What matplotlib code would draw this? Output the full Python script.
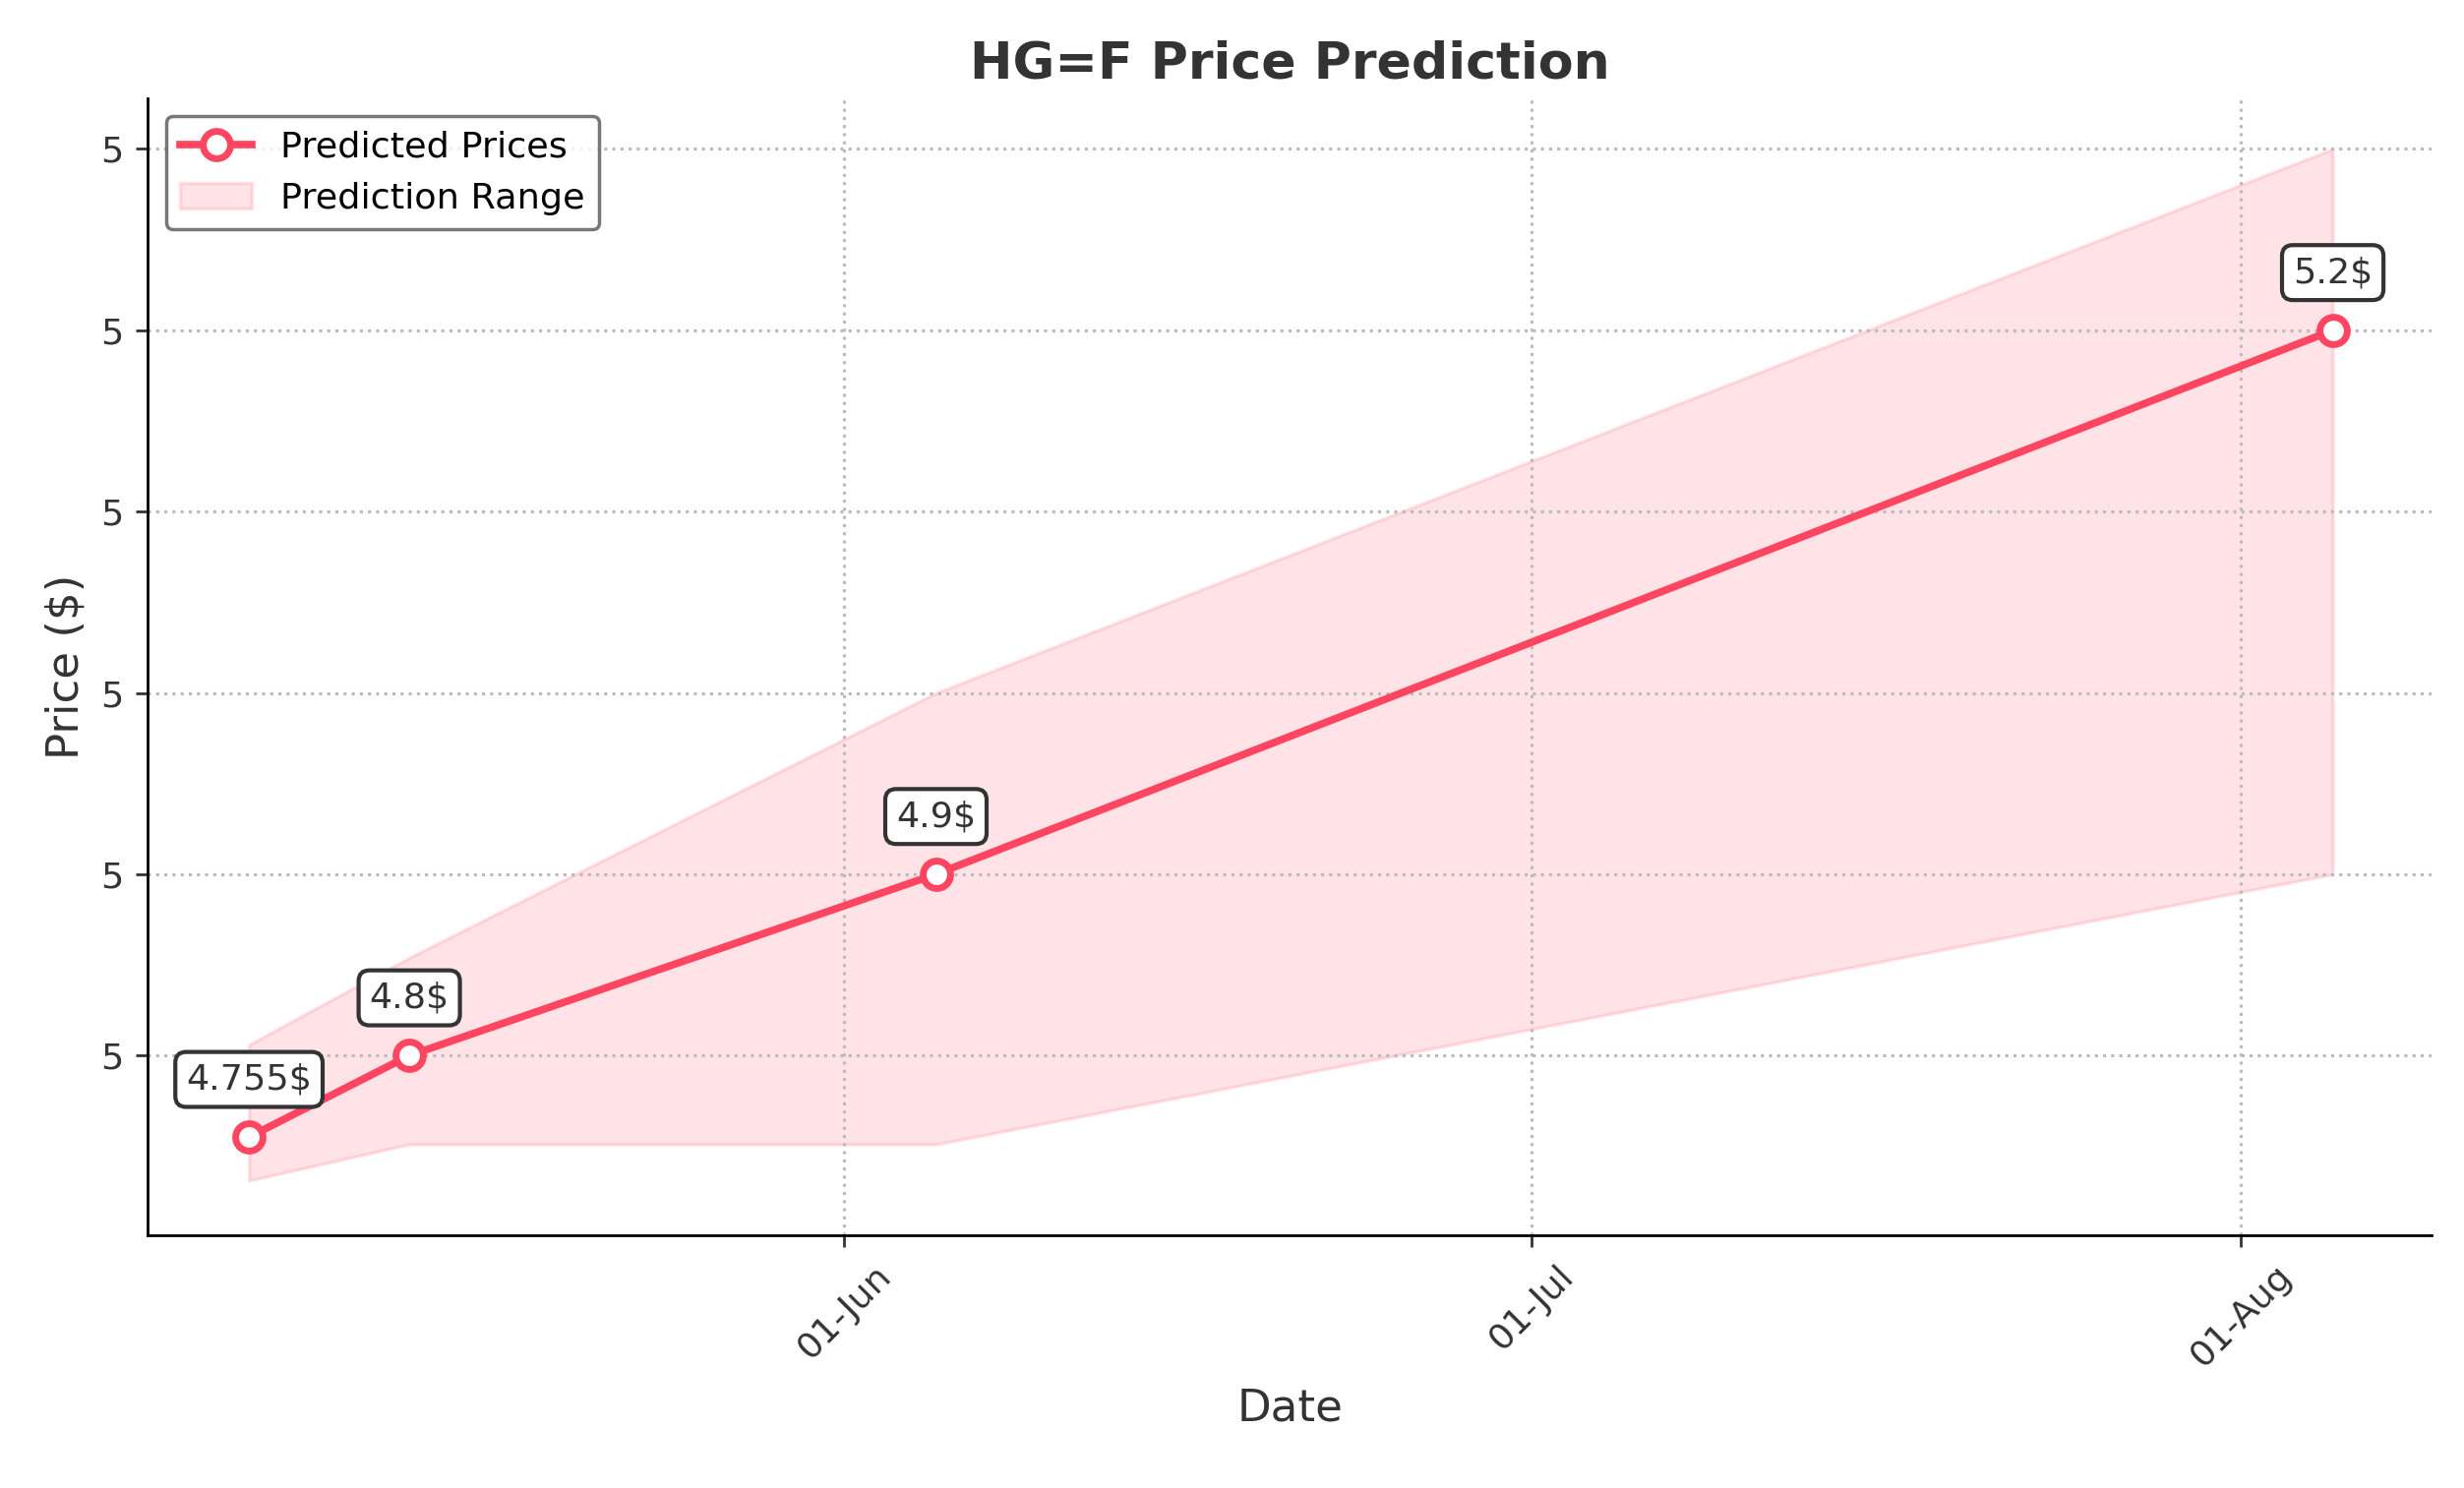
import matplotlib
matplotlib.use("Agg")
import matplotlib.pyplot as plt
import matplotlib.dates as mdates
from matplotlib.ticker import FormatStrFormatter
import pandas as pd

dates = pd.to_datetime(["2024-05-06", "2024-05-13", "2024-06-05", "2024-08-05"])
pred = [4.755, 4.8, 4.9, 5.2]
lower = [4.731, 4.751, 4.751, 4.9]
upper = [4.806, 4.854, 5.0, 5.3]
labels = ["4.755$", "4.8$", "4.9$", "5.2$"]

color = "#ff4560"
fig, ax = plt.subplots(figsize=(10.02, 6.052), dpi=250)
ax.fill_between(dates, lower, upper, color=color, alpha=0.15, label="Prediction Range")
ax.plot(dates, pred, color=color, lw=2.2, marker="o", markersize=8,
        markerfacecolor="white", markeredgewidth=2, label="Predicted Prices")
for d, p, t in zip(dates, pred, labels):
    ax.annotate(t, (d, p), xytext=(0, 12), textcoords="offset points", ha="center", va="bottom",
                fontsize=10.5, color="#333333",
                bbox=dict(boxstyle="round,pad=0.3", fc="white", ec="#333333", lw=1.2))
ax.set_xlim(pd.Timestamp("2024-05-01 14:00"), pd.Timestamp("2024-08-09 08:00"))
ax.set_ylim(4.701, 5.328)
ax.set_yticks([4.8, 4.9, 5.0, 5.1, 5.2, 5.3])
ax.yaxis.set_major_formatter(FormatStrFormatter("%.0f"))
ax.xaxis.set_major_locator(mdates.MonthLocator(bymonthday=1))
ax.xaxis.set_major_formatter(mdates.DateFormatter("%d-%b"))
plt.setp(ax.get_xticklabels(), rotation=45)
ax.grid(True, linestyle=":", color="#bbbbbb", lw=0.9)
for s in ["top", "right"]:
    ax.spines[s].set_visible(False)
ax.tick_params(labelsize=10.5, colors="#333333")
ax.set_title("HG=F Price Prediction", fontsize=15, fontweight="bold", color="#333333")
ax.set_xlabel("Date", fontsize=13, color="#333333")
ax.set_ylabel("Price ($)", fontsize=13, color="#333333")
h, l = ax.get_legend_handles_labels()
ax.legend(h[::-1], l[::-1], loc="upper left", fontsize=10.5, edgecolor="#555555")
fig.subplots_adjust(left=0.06, right=0.987, top=0.934, bottom=0.17)
fig.savefig("out.png")
